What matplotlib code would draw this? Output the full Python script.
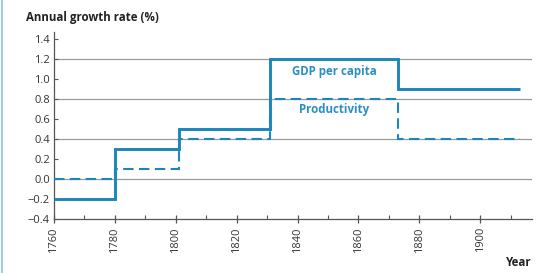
import matplotlib
matplotlib.use("Agg")
import matplotlib.pyplot as plt
from matplotlib.lines import Line2D
from matplotlib.ticker import MultipleLocator

# step edges (years) and growth rates (%)
edges = [1760, 1780, 1801, 1831, 1873, 1913]
gdp_per_capita = [-0.2, 0.3, 0.5, 1.2, 0.9]
productivity = [0.0, 0.1, 0.4, 0.8, 0.4]
grid_levels = [0.0, 0.4, 0.8, 1.2]

blue = "#1c86ba"
plt.rcParams['font.family'] = ['Open Sans', 'DejaVu Sans']

fig = plt.figure(figsize=(5.41, 2.73), dpi=100)
ax = fig.add_axes([0.0998, 0.199, 0.8836, 0.684])

for g in grid_levels:
    ax.axhline(g, color="#9a9a9a", lw=0.9, zorder=1)

ax.stairs(productivity, edges, baseline=None, color=blue, lw=1.5,
          linestyle=(0, (5, 2.6)), zorder=3)
ax.stairs(gdp_per_capita, edges, baseline=None, color=blue, lw=2.1, zorder=4)

ax.text(1852, 1.07, "GDP per capita", color="#2a8fc4", fontsize=8.3,
        fontweight="bold", ha="center", va="center")
ax.text(1852, 0.69, "Productivity", color="#2a8fc4", fontsize=8.3,
        fontweight="bold", ha="center", va="center")

ax.set_xlim(1760, 1917)
ax.set_ylim(-0.4, 1.47)
ax.xaxis.set_major_locator(MultipleLocator(20))
ax.xaxis.set_minor_locator(MultipleLocator(10))
ax.set_yticks([-0.4, -0.2, 0.0, 0.2, 0.4, 0.6, 0.8, 1.0, 1.2, 1.4])
ax.set_yticklabels(["\u22120.4", "\u22120.2", "0.0", "0.2", "0.4", "0.6",
                    "0.8", "1.0", "1.2", "1.4"])

for s in ["top", "right"]:
    ax.spines[s].set_visible(False)
for s in ["left", "bottom"]:
    ax.spines[s].set_color("#555555")
    ax.spines[s].set_linewidth(0.9)

ax.tick_params(axis="x", which="major", direction="inout", length=6, width=0.9,
               color="#555555", labelsize=8, labelcolor="#333333",
               labelrotation=90, pad=3)
ax.tick_params(axis="x", which="minor", direction="in", length=3, width=0.8,
               color="#555555")
ax.tick_params(axis="y", which="major", direction="in", length=3, width=0.8,
               color="#555555", labelsize=8, labelcolor="#333333", pad=3)

fig.text(26 / 541, 1 - 17 / 273, "Annual growth rate (%)", fontsize=8.3,
         fontweight="bold", color="#222222", ha="left", va="center")
fig.text(532 / 541, 1 - 263 / 273, "Year", fontsize=8.3, fontweight="bold",
         color="#222222", ha="right", va="center")

# thin blue frame edge on the left
fig.add_artist(Line2D([2 / 541, 2 / 541], [0, 1], color="#8cc4e2", lw=1.2,
                      transform=fig.transFigure))

fig.savefig("out.png", dpi=100)
